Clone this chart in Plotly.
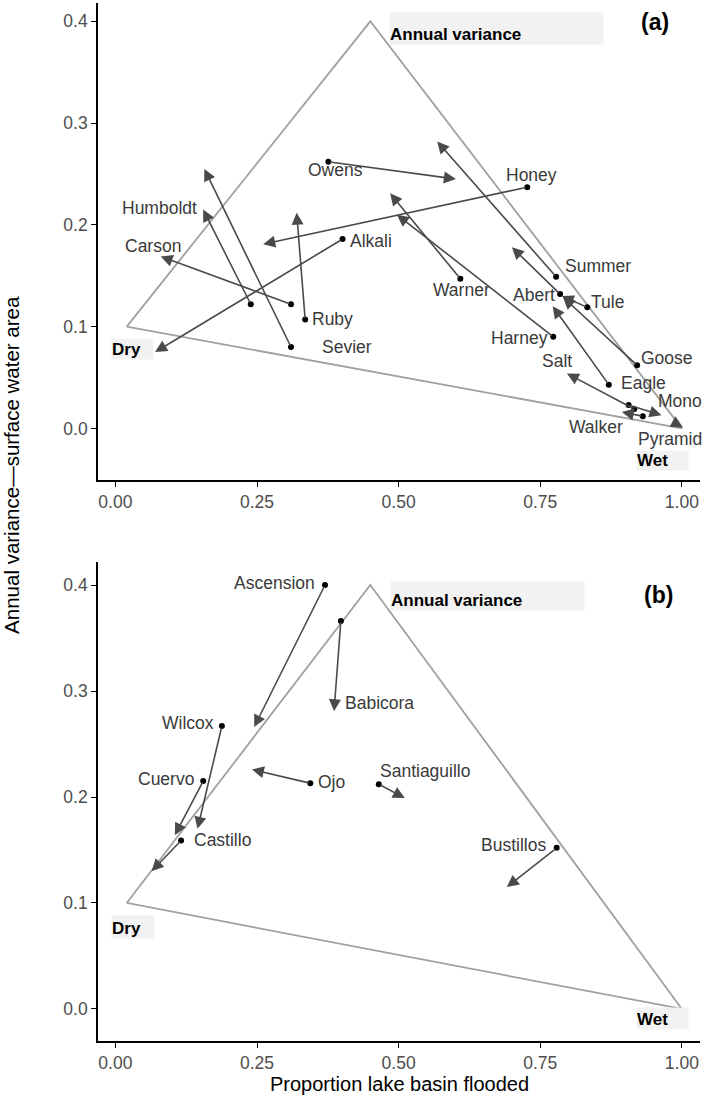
import plotly.graph_objects as go

# ---------------- data: panel (a) ----------------
lakes_a = ["Owens", "Honey", "Humboldt", "Sevier", "Carson", "Ruby", "Alkali", "Warner",
           "Harney", "Summer", "Tule", "Abert", "Goose", "Eagle", "Salt", "Mono", "Walker", "Pyramid"]
start_x_a = [0.376, 0.727, 0.239, 0.310, 0.310, 0.335, 0.401, 0.609, 0.773, 0.778, 0.833, 0.785,
             0.921, 0.871, 0.916, 0.906, 0.931, 0.989]
start_y_a = [0.262, 0.237, 0.122, 0.080, 0.122, 0.107, 0.186, 0.147, 0.090, 0.149, 0.119, 0.132,
             0.062, 0.043, 0.019, 0.023, 0.012, 0.005]
end_x_a = [0.601, 0.261, 0.155, 0.157, 0.080, 0.320, 0.070, 0.485, 0.497, 0.568, 0.788, 0.700,
           0.790, 0.772, 0.797, 0.964, 0.894, 1.002]
end_y_a = [0.245, 0.181, 0.215, 0.255, 0.169, 0.212, 0.075, 0.231, 0.210, 0.282, 0.130, 0.178,
           0.129, 0.120, 0.054, 0.013, 0.016, 0.001]

# ---------------- data: panel (b) ----------------
lakes_b = ["Ascension", "Babicora", "Wilcox", "Cuervo", "Castillo", "Ojo", "Santiaguillo", "Bustillos"]
start_x_b = [0.370, 0.398, 0.188, 0.155, 0.116, 0.344, 0.465, 0.779]
start_y_b = [0.400, 0.366, 0.267, 0.215, 0.159, 0.213, 0.212, 0.152]
end_x_b = [0.245, 0.386, 0.145, 0.105, 0.064, 0.241, 0.511, 0.691]
end_y_b = [0.266, 0.281, 0.170, 0.164, 0.130, 0.226, 0.199, 0.115]

# triangle (Dry, Annual variance, Wet)
tri_x = [0.02, 0.45, 1.00, 0.02]
tri_y = [0.10, 0.40, 0.00, 0.10]

x_ticks = [0.00, 0.25, 0.50, 0.75, 1.00]
x_ticklabels = ["0.00", "0.25", "0.50", "0.75", "1.00"]
y_ticks = [0.0, 0.1, 0.2, 0.3, 0.4]
y_ticklabels = ["0.0", "0.1", "0.2", "0.3", "0.4"]

# repelled label positions (layout)
label_pos_a = {
    "Owens": (0.388, 0.254), "Honey": (0.735, 0.249), "Humboldt": (0.0775, 0.2167),
    "Carson": (0.066, 0.179), "Alkali": (0.452, 0.1846), "Ruby": (0.383, 0.1076),
    "Sevier": (0.409, 0.080), "Warner": (0.611, 0.136), "Summer": (0.852, 0.160),
    "Abert": (0.739, 0.131), "Tule": (0.869, 0.1246), "Harney": (0.714, 0.0886),
    "Goose": (0.973, 0.0689), "Salt": (0.779, 0.0663), "Eagle": (0.932, 0.0443),
    "Mono": (0.9965, 0.0272), "Walker": (0.849, 0.0017), "Pyramid": (0.979, -0.0107),
}
label_pos_b = {
    "Ascension": (0.280, 0.4016), "Babicora": (0.466, 0.289), "Wilcox": (0.129, 0.270),
    "Cuervo": (0.089, 0.2167), "Ojo": (0.382, 0.2139), "Santiaguillo": (0.546, 0.2248),
    "Castillo": (0.189, 0.1594), "Bustillos": (0.702, 0.1547),
}

FONT = "Liberation Sans, Arial, sans-serif"
LABEL_COL = "#3a3a3a"
ARROW_COL = "#4a4a4a"
TRI_COL = "#a0a0a0"

fig = go.Figure()
annotations = []

def add_panel(xr, yr, lakes, sx, sy, ex, ey, labels, corner):
    fig.add_trace(go.Scatter(x=tri_x, y=tri_y, mode="lines", xaxis=xr, yaxis=yr,
                             line=dict(color=TRI_COL, width=1.8), showlegend=False, hoverinfo="skip"))
    fig.add_trace(go.Scatter(x=sx, y=sy, mode="markers", xaxis=xr, yaxis=yr,
                             marker=dict(color="black", size=6), showlegend=False))
    for i, name in enumerate(lakes):
        annotations.append(dict(x=ex[i], y=ey[i], ax=sx[i], ay=sy[i], xref=xr, yref=yr,
                                axref=xr, ayref=yr, text="", showarrow=True, arrowhead=2,
                                arrowsize=1.5, arrowwidth=1.6, arrowcolor=ARROW_COL, standoff=0,
                                startstandoff=0))
        lx, ly = labels[name]
        annotations.append(dict(x=lx, y=ly, xref=xr, yref=yr, text=name, showarrow=False,
                                font=dict(family=FONT, size=17.5, color=LABEL_COL)))
    for (txt, cx, cy, w, h) in corner["boxes"]:
        annotations.append(dict(x=cx, y=cy, xref=xr, yref=yr, text="<b>%s</b>" % txt,
                                showarrow=False, width=w, height=h, align="left",
                                valign="bottom", bgcolor="#f2f2f2", borderpad=0,
                                font=dict(family=FONT, size=17, color="black")))
    tag, tx, ty = corner["tag"]
    annotations.append(dict(x=tx, y=ty, xref=xr, yref=yr, text="<b>%s</b>" % tag, showarrow=False,
                            font=dict(family=FONT, size=23, color="black")))

add_panel("x", "y", lakes_a, start_x_a, start_y_a, end_x_a, end_y_a, label_pos_a,
          {"boxes": [("Annual variance", 0.6726, 0.3932, 213, 31),
                     ("Dry", 0.0297, 0.0778, 41, 20),
                     ("Wet", 0.965, -0.032, 51, 19)],
           "tag": ("(a)", 0.952, 0.3996)})
add_panel("x2", "y2", lakes_b, start_x_b, start_y_b, end_x_b, end_y_b, label_pos_b,
          {"boxes": [("Annual variance", 0.6574, 0.3892, 193, 28),
                     ("Dry", 0.0302, 0.0775, 42, 22),
                     ("Wet", 0.965, -0.0094, 51, 21)],
           "tag": ("(b)", 0.958, 0.3906)})

# axis titles
annotations.append(dict(x=-0.1429, y=0.555, xref="paper", yref="paper", textangle=-90,
                        xanchor="center", yanchor="middle",
                        text="Annual variance\u2014surface water area", showarrow=False,
                        font=dict(family=FONT, size=20.5, color="black")))
annotations.append(dict(x=0.5, y=-0.0415, xref="paper", yref="paper", xanchor="center",
                        yanchor="middle", text="Proportion lake basin flooded", showarrow=False,
                        font=dict(family=FONT, size=20, color="black")))

axis_common = dict(showgrid=False, zeroline=False, showline=True, linecolor="black", linewidth=1.6,
                   ticks="outside", ticklen=5, tickwidth=1.4, tickcolor="black",
                   tickfont=dict(family=FONT, size=17.5, color="#4d4d4d"), mirror=False)

H = 1038.0
fig.update_layout(
    width=709, height=1097,
    margin=dict(l=98, r=9, t=3, b=56),
    paper_bgcolor="white", plot_bgcolor="white",
    xaxis=dict(domain=[0, 1], range=[-0.0307, 1.032], anchor="y", tickvals=x_ticks,
               ticktext=x_ticklabels, **axis_common),
    yaxis=dict(domain=[1 - 477 / H, 1], range=[-0.0507, 0.418], anchor="x", tickvals=y_ticks,
               ticktext=y_ticklabels, **axis_common),
    xaxis2=dict(domain=[0, 1], range=[-0.0307, 1.032], anchor="y2", tickvals=x_ticks,
                ticktext=x_ticklabels, **axis_common),
    yaxis2=dict(domain=[0, 1 - 559 / H], range=[-0.0302, 0.4217], anchor="x2", tickvals=y_ticks,
                ticktext=y_ticklabels, **axis_common),
    annotations=annotations,
    showlegend=False,
)

fig.write_html("out.html", config={"displayModeBar": False},
               post_script="document.body.style.margin='0px';")
